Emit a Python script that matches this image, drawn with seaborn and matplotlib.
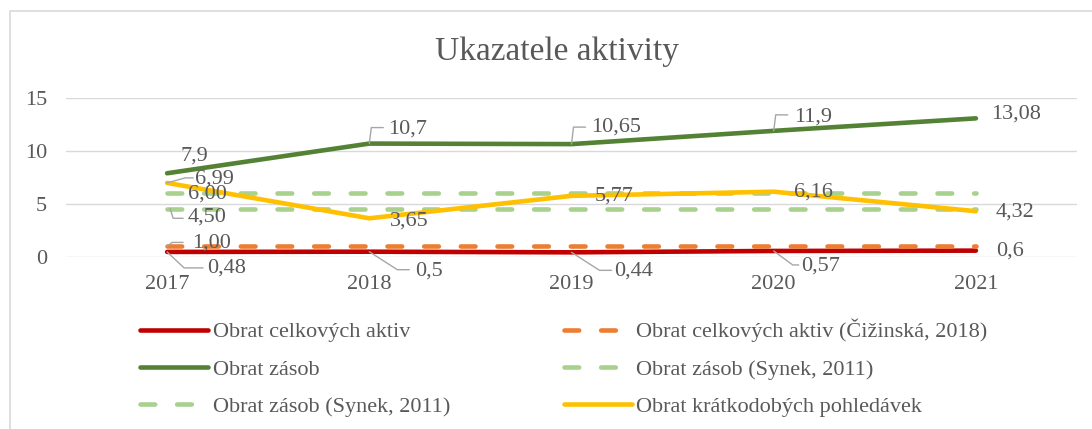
import numpy as np
import pandas as pd
import seaborn as sns
import matplotlib
matplotlib.use("Agg")
import matplotlib.pyplot as plt
import matplotlib.transforms as mtransforms
from matplotlib.patches import Rectangle
from matplotlib.lines import Line2D

# ---------------- data ----------------
years = ["2017", "2018", "2019", "2020", "2021"]
aktiva = [0.48, 0.5, 0.44, 0.57, 0.6]
aktiva_norm = [1.00, 1.00, 1.00, 1.00, 1.00]
zasoby = [7.9, 10.7, 10.65, 11.9, 13.08]
zasoby_norm_hi = [6.00, 6.00, 6.00, 6.00, 6.00]
zasoby_norm_lo = [4.50, 4.50, 4.50, 4.50, 4.50]
pohledavky = [6.99, 3.65, 5.77, 6.16, 4.32]

names = [
    "Obrat celkových aktiv",
    "Obrat celkových aktiv (Čižinská, 2018)",
    "Obrat zásob",
    "Obrat zásob (Synek, 2011)",
    "Obrat zásob (Synek, 2011)",
    "Obrat krátkodobých pohledávek",
]
title = "Ukazatele aktivity"

# ---------------- style ----------------
sns.set_theme(style="white")
plt.rcParams["font.family"] = ["Liberation Serif", "DejaVu Serif"]
TXT = "#595959"
GRID = "#D9D9D9"
LW = 3.3
DASH = (3.2, 4.8)
FS = 16

def fmt_g(v):
    return f"{v:g}".replace(".", ",")

def fmt_2(v):
    return f"{v:.2f}".replace(".", ",")

# label specs: (index, dx_px, dy_px (down +), leader vertices in px or None)
series = [
    (aktiva, "#C00000", False, fmt_g, [
        (0, 40, 16, [(0, 0), (17, 16), (36, 16)]),
        (1, 46, 19, [(0, 0), (28, 18), (40, 18)]),
        (2, 43, 19, [(0, 0), (28, 18), (40, 18)]),
        (3, 27, 15, [(0, 0), (19, 14), (25, 14)]),
        (4, 20, 0, None),
    ]),
    (aktiva_norm, "#ED7D31", True, fmt_2, [
        (0, 25, -3, [(0, 0), (5, -4), (16, -4)]),
    ]),
    (zasoby, "#548235", False, fmt_g, [
        (0, 13, -17, None),
        (1, 19, -15, [(0, 0), (2, -16), (14, -16)]),
        (2, 20, -17, [(0, 0), (2, -17), (14, -17)]),
        (3, 20, -14, [(0, 0), (2, -16), (14, -16)]),
        (4, 15, -4, None),
    ]),
    (zasoby_norm_hi, "#A9D18E", True, fmt_2, [
        (0, 21, 1, None),
    ]),
    (zasoby_norm_lo, "#A9D18E", True, fmt_2, [
        (0, 21, 8, [(3, -1), (6, 9), (16, 9)]),
    ]),
    (pohledavky, "#FFC000", False, fmt_g, [
        (0, 28, -4, [(0, 0), (18, -5), (26, -5)]),
        (1, 21, 3, None),
        (2, 23, 0, None),
        (3, 20, 0, None),
        (4, 20, 1, None),
    ]),
]

W, H = 1092, 429
fig = plt.figure(figsize=(W / 100, H / 100), dpi=100)
ax = fig.add_axes([66 / W, 1 - 257 / H, (1077 - 66) / W, (257 - 98) / H])

x = np.arange(len(years))
handles = []
for (vals, color, dashed, fmt, labels), name in zip(series, names):
    df = pd.DataFrame({"x": x, "y": vals})
    sns.lineplot(data=df, x="x", y="y", ax=ax, color=color, linewidth=LW,
                 errorbar=None, legend=False,
                 solid_capstyle="round", dash_capstyle="round",
                 solid_joinstyle="round")
    ln = ax.lines[-1]
    if dashed:
        ln.set_linestyle((0, DASH))
    h = Line2D([], [], color=color, linewidth=LW,
               solid_capstyle="round", dash_capstyle="round",
               linestyle=(0, DASH) if dashed else "-")
    handles.append((h, name))
    for (i, dx, dy, leader) in labels:
        ax.annotate(fmt(vals[i]), xy=(x[i], vals[i]), xytext=(dx, -dy),
                    textcoords="offset pixels", ha="left", va="center",
                    fontsize=FS, color=TXT, zorder=10)
        if leader:
            tr = (mtransforms.Affine2D().scale(1, -1)
                  + mtransforms.ScaledTranslation(x[i], vals[i], ax.transData))
            lx = [p[0] for p in leader]
            ly = [p[1] for p in leader]
            ax.add_line(Line2D(lx, ly, transform=tr, color="#A6A6A6",
                               linewidth=1.0, zorder=9, clip_on=False))

ax.set_xlim(-0.5, len(years) - 0.5)
ax.set_ylim(0, 15)
ax.set_yticks([0, 5, 10, 15])
ax.set_xticks(x)
ax.set_xticklabels(years)
ax.set_xlabel("")
ax.set_ylabel("")
ax.yaxis.grid(True, color=GRID, linewidth=1.0)
ax.set_axisbelow(True)
for s in ax.spines.values():
    s.set_visible(False)
ax.tick_params(axis="y", length=0, pad=13.5, labelsize=FS, labelcolor=TXT)
ax.tick_params(axis="x", length=0, pad=13, labelsize=FS, labelcolor=TXT)

fig.text(557 / W, 1 - 52 / H, title, ha="center", va="center",
         fontsize=24, color=TXT)

# legend: column-first order
order = [0, 2, 4, 1, 3, 5]
leg = fig.legend([handles[k][0] for k in order], [handles[k][1] for k in order],
                 ncol=2, loc="upper left",
                 bbox_to_anchor=(140 / W, 1 - 319 / H),
                 frameon=False, fontsize=FS, labelcolor=TXT,
                 handlelength=3.05, handletextpad=0.22, columnspacing=5.12,
                 labelspacing=0.75, borderpad=0, borderaxespad=0)

# chart-area border (top and left visible)
fig.patches.append(Rectangle((10 / W, -0.2), 2.0, (H - 11) / H + 0.2,
                             transform=fig.transFigure, fill=False,
                             edgecolor=GRID, linewidth=1.2))

fig.savefig("out.png", dpi=100)
